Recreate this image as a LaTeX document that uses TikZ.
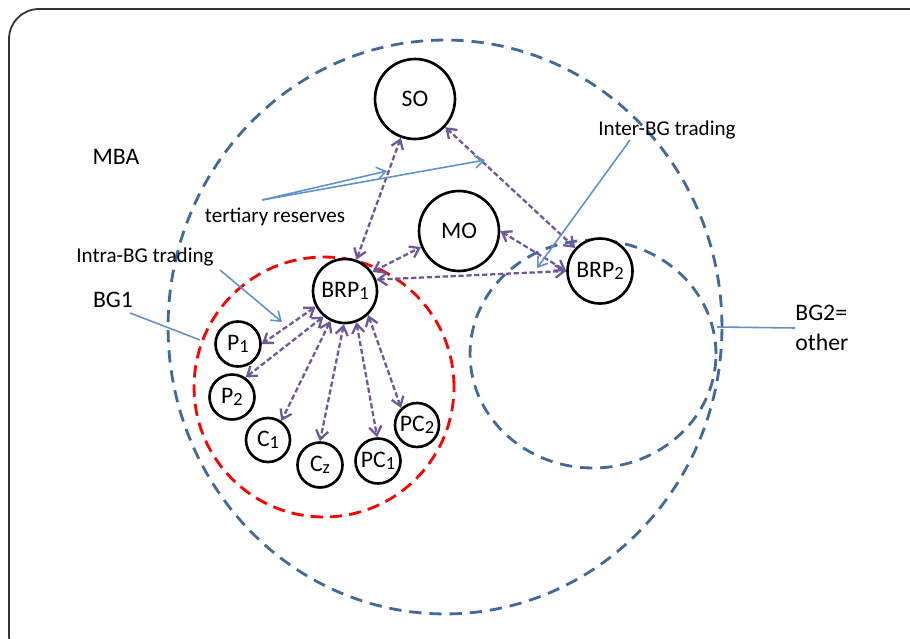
\documentclass[tikz,border=0pt]{standalone}
\usepackage{fontspec}
\setmainfont{Carlito}
\usetikzlibrary{arrows.meta}
\definecolor{mbablue}{RGB}{66,106,152}
\definecolor{notebl}{RGB}{95,145,205}
\definecolor{tradeviolet}{RGB}{112,88,152}
\newcommand{\lowidx}[1]{\raisebox{-0.15ex}{\fontsize{10.5}{11}\selectfont #1}}

\begin{document}
\begin{tikzpicture}[x=0.02cm, y=-0.02cm,
    agent/.style={circle, draw, fill=white, line width=1.5pt, inner sep=0pt, minimum size=#1, font=\fontsize{13.5}{15}\selectfont},
    zone/.style={mbablue, line width=1.6pt, dash pattern=on 7pt off 4.5pt},
    trade/.style={tradeviolet, line width=1.3pt, dash pattern=on 3pt off 1.5pt,
      {Straight Barb[length=5pt,width=7pt]}-{Straight Barb[length=5pt,width=7pt]}},
    note/.style={notebl, line width=0.9pt},
    lbl/.style={font=\fontsize{12}{14}\selectfont, inner sep=0pt},
    biglbl/.style={font=\fontsize{13.5}{17}\selectfont, inner sep=0pt}]
  \clip (0,0) rectangle (910,639);
  \draw[gray!40!black, line width=1pt, rounded corners=0.6cm] (9,9) rectangle (940,665);

  % balancing areas
  \draw[zone] (445,327) ellipse [x radius=5.54cm, y radius=5.74cm];
  \draw[zone] (593,354) ellipse [x radius=2.46cm, y radius=2.28cm];
  \draw[red, line width=1.6pt, dash pattern=on 7pt off 4pt] (324,387) circle [radius=2.6cm];

  % operators and parties
  \node[agent=1.6cm] (so) at (415,99) {SO};
  \node[agent=1.6cm] (mo) at (459,231) {MO};
  \node[agent=1.28cm] (brp1) at (345,291) {BRP\lowidx{1}};
  \node[agent=1.3cm] (brp2) at (600,271) {BRP\lowidx{2}};
  \node[agent=0.9cm] (p1) at (238,344) {P\lowidx{1}};
  \node[agent=0.9cm] (p2) at (232,397) {P\lowidx{2}};
  \node[agent=0.88cm] (c1) at (268,440) {C\lowidx{1}};
  \node[agent=0.9cm] (cz) at (320,465) {C\lowidx{z}};
  \node[agent=0.9cm] (pc1) at (378,461) {PC\lowidx{1}};
  \node[agent=0.88cm] (pc2) at (417,425) {PC\lowidx{2}};

  % labels
  \node[biglbl] (mba) at (116,157) {MBA};
  \node[lbl] (tert) at (275,217) {tertiary reserves};
  \node[lbl] (intra) at (145,257) {Intra-BG trading};
  \node[biglbl] (bg1) at (113,300) {BG1};
  \node[lbl] (inter) at (667,130) {Inter-BG trading};
  \node[biglbl, align=left, anchor=west] (bg2) at (795,328) {BG2=\\other};

  % trading links
  \draw[trade] (brp1) -- (so);  \draw[trade] (so) -- (brp2);
  \draw[trade] (mo.east) -- (brp2.west);
  \draw[trade] (brp1.35) -- (mo.203);
  \draw[trade] (brp1.20) -- (brp2.180);
  \draw[trade] (brp1.208) -- (p1.east);  \draw[trade] (brp1.230) -- (p2.55);
  \draw[trade] (brp1.244) -- (c1.55);    \draw[trade] (brp1.268) -- (cz.90);
  \draw[trade] (brp1.290) -- (pc1.92);   \draw[trade] (brp1.314) -- (pc2.133);

  % pointers from the labels
  \coordinate (tertS) at (262,200); \coordinate (tertA) at (387,171); \coordinate (tertB) at (485,160);
  \draw[note,-{Straight Barb[length=5pt,width=7pt]}] (tertS) -- (tertA);
  \draw[note,-{Straight Barb[length=5pt,width=7pt]}] (tertS) -- (tertB);
  \coordinate (interS) at (630,140); \coordinate (interE) at (537,268);
  \draw[note,-{Straight Barb[length=5pt,width=7pt]}] (interS) -- (interE);
  \coordinate (intraS) at (220,270); \coordinate (intraE) at (282,322);
  \draw[note,-{Straight Barb[length=5pt,width=7pt]}] (intraS) -- (intraE);
  \coordinate (bg1S) at (130,313); \coordinate (bg1E) at (200,340);
  \draw[note] (bg1S) -- (bg1E);
  \coordinate (bg2E) at (717,327);
  \draw[note] (bg2.west) -- (bg2E);
\end{tikzpicture}
\end{document}
